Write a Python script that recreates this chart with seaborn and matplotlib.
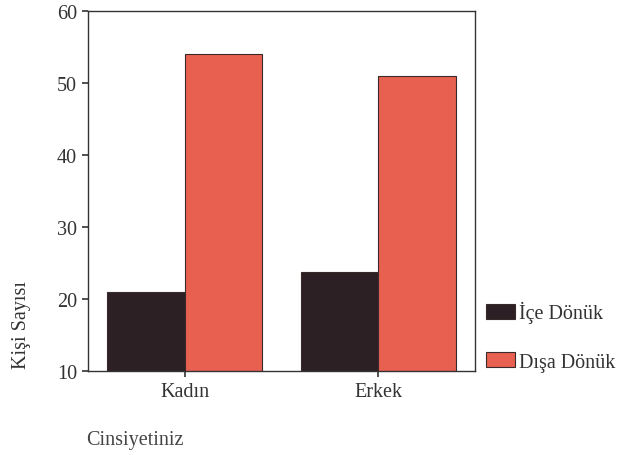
import pandas as pd
import matplotlib
matplotlib.use("Agg")
import matplotlib.pyplot as plt
import seaborn as sns
from matplotlib.patches import Patch

# Data
categories = ["Kadın", "Erkek"]
groups = ["İçe Dönük", "Dışa Dönük"]
ice_values = [21, 23.7]
disa_values = [54, 51]
y_ticks = [10, 20, 30, 40, 50, 60]

colors = ["#2d2025", "#e8604f"]

df = pd.DataFrame({
    "Cinsiyet": categories * 2,
    "Grup": [groups[0]] * 2 + [groups[1]] * 2,
    "Sayi": ice_values + disa_values,
})

sns.set_style("white")
plt.rcParams["font.family"] = ["Liberation Serif", "DejaVu Serif"]

fig = plt.figure(figsize=(6.21, 4.56), dpi=100)
ax = fig.add_axes([88 / 621, 1 - 372 / 456, 387 / 621, 360 / 456])

sns.barplot(data=df, x="Cinsiyet", y="Sayi", hue="Grup", order=categories,
            hue_order=groups, palette=colors, width=0.8, saturation=1,
            edgecolor="#3a2a2a", linewidth=0.8, ax=ax, legend=False)

ax.set_ylim(10, 60)
ax.set_xlim(-0.5, 1.5)
ax.set_yticks(y_ticks)
ax.set_xlabel("")
ax.set_ylabel("")
for s in ax.spines.values():
    s.set_color("#333333")
    s.set_linewidth(1.0)
ax.tick_params(axis="both", direction="out", length=4, width=1.2, color="#333333",
               labelsize=14.5, labelcolor="#333333", pad=4, left=True, bottom=True)

fig.text(22 / 621, 1 - 325 / 456, "Kişi Sayısı", rotation=90, ha="center",
         va="center", fontsize=14.5, color="#333333")
fig.text(86 / 621, 1 - 441 / 456, "Cinsiyetiniz", ha="left", va="center",
         fontsize=14.5, color="#444444")

handles = [Patch(facecolor=c, edgecolor="#3a2a2a", linewidth=0.8) for c in colors]
fig.legend(handles, groups, loc="upper left", bbox_to_anchor=(478 / 621, 1 - 294 / 456),
           frameon=False, fontsize=14.5, labelspacing=1.45, handlelength=1.45,
           handleheight=0.75, handletextpad=0.2, labelcolor="#333333",
           borderaxespad=0)

fig.savefig("out.png", dpi=100)
